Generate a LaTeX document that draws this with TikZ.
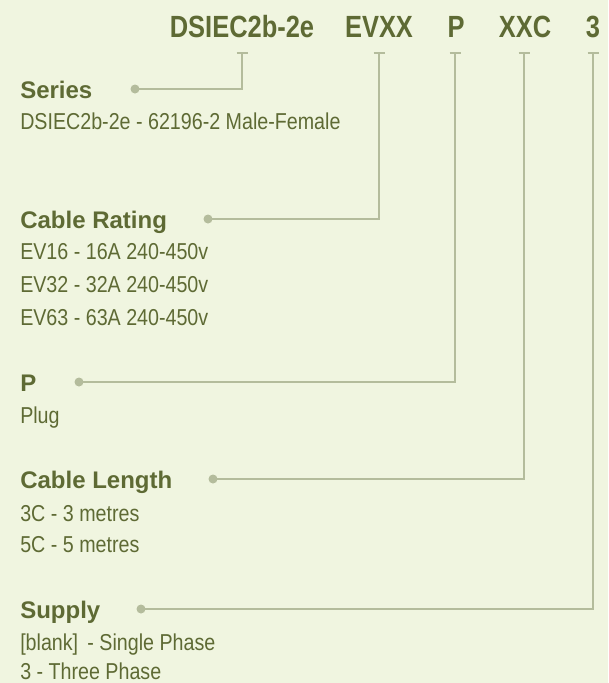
\documentclass[tikz,border=0pt]{standalone}
\usepackage{fontspec}
\setmainfont{Liberation Sans}
\newfontfamily\codefont{Liberation Sans}[FakeStretch=0.83]
\newfontfamily\bodyfont{Liberation Sans}[FakeStretch=0.855]
\usetikzlibrary{calc}
\definecolor{moss}{RGB}{94,106,52}
\definecolor{sage}{RGB}{180,188,156}
\definecolor{paper}{RGB}{240,245,224}
\tikzset{
  codetext/.style={font={\codefont\bfseries\fontsize{23pt}{26pt}\selectfont},text=moss,
    anchor=base,inner sep=0pt},
  fieldhead/.style={font={\bfseries\fontsize{18pt}{20pt}\selectfont},text=moss,
    anchor=base west,inner sep=0pt},
  fielddesc/.style={font={\bodyfont\fontsize{17.25pt}{20pt}\selectfont},text=moss,
    anchor=base west,inner sep=0pt},
  lead/.style={draw=sage,line width=1.5pt},
  knob/.style={circle,fill=sage,inner sep=0pt,minimum size=6.75pt},
}
\begin{document}
\begin{tikzpicture}[x=0.75pt,y=-0.75pt]
  \fill[paper] (0,0) rectangle (608,683);
  % part code
  \node[codetext] (cS) at (242,37) {DSIEC2b-2e};
  \node[codetext] (cR) at (379,37) {EVXX};
  \node[codetext] (cP) at (456,37) {P};
  \node[codetext] (cL) at (525,37) {XXC};
  \node[codetext] (cN) at (593,37) {3};
  % fields
  \node[fieldhead] (hS) at (20,98) {Series};
  \node[fielddesc] (dS1) at (20,129) {DSIEC2b-2e - 62196-2 Male-Female};
  \node[fieldhead] (hR) at (20,228) {Cable Rating};
  \node[fielddesc] (dR1) at (20,259) {EV16 - 16A 240-450v};
  \node[fielddesc] (dR2) at (20,292) {EV32 - 32A 240-450v};
  \node[fielddesc] (dR3) at (20,325) {EV63 - 63A 240-450v};
  \node[fieldhead] (hP) at (20,391) {P};
  \node[fielddesc] (dP1) at (20,423) {Plug};
  \node[fieldhead] (hL) at (20,488) {Cable Length};
  \node[fielddesc] (dL1) at (20,521) {3C - 3 metres};
  \node[fielddesc] (dL2) at (20,552) {5C - 5 metres};
  \node[fieldhead] (hN) at (20,618) {Supply};
  \node[fielddesc] (dN1) at (20,650) {[blank]\, - Single Phase};
  \node[fielddesc] (dN2) at (20,679) {3 - Three Phase};
  % leaders
  \foreach \t/\x/\y/\k in {S/242/89/135, R/379/219/208, P/455/382/79, L/524/479/213, N/593/609/141}{
    \coordinate (t\t) at (\x,53);
    \node[knob] (k\t) at (\k,\y) {};
    \draw[lead] (k\t.center) -| (t\t);
    \draw[lead] ($(t\t)+(-5.5,0)$) -- ($(t\t)+(5.5,0)$);
  }
\end{tikzpicture}
\end{document}
